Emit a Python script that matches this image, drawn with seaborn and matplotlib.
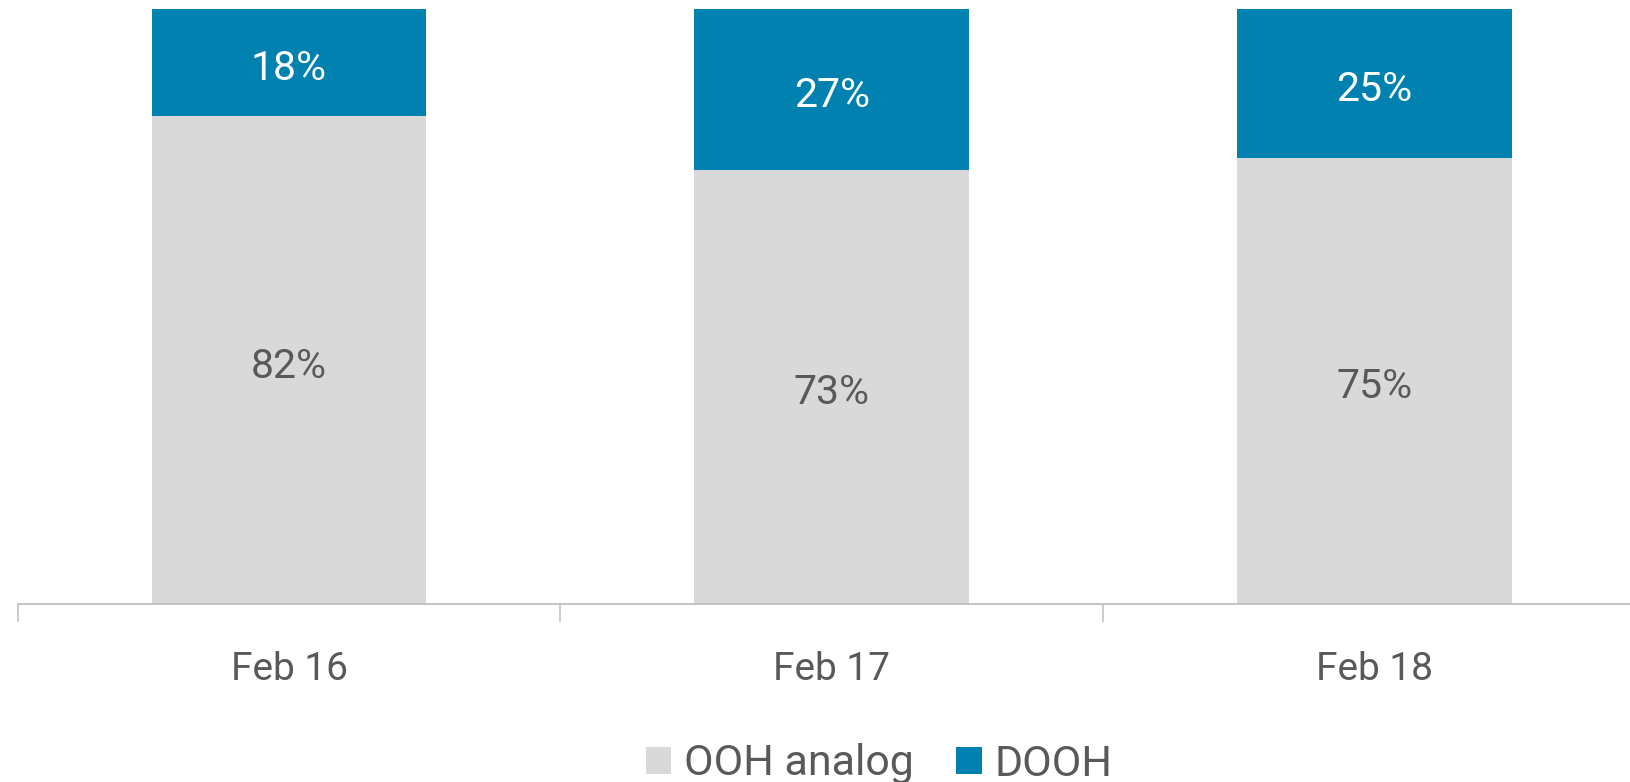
import matplotlib
matplotlib.use("Agg")
import matplotlib.pyplot as plt
import seaborn as sns
import pandas as pd
from matplotlib.patches import Rectangle
from matplotlib.transforms import offset_copy

categories = ["Feb 16", "Feb 17", "Feb 18"]
ooh_analog = [82, 73, 75]
dooh = [18, 27, 25]
series_names = ["OOH analog", "DOOH"]

GRAY = "#D9D9D9"
BLUE = "#0081B0"
TEXT = "#595959"
AXIS = "#BFBFBF"

sns.set_theme(style="white")
plt.rcParams["font.family"] = ["Roboto", "DejaVu Sans"]

FS_TICK = 28
FS_LABEL = 29.5
FS_LEG = 31

fig = plt.figure(figsize=(16.3, 7.82), dpi=100)
ax = fig.add_axes([17.7 / 1630, 1 - 604 / 782, 1 - 17.7 / 1630, (604 - 9) / 782])

df = pd.DataFrame({"cat": categories, "analog": ooh_analog, "dooh": dooh})
df["total"] = df["analog"] + df["dooh"]

sns.barplot(data=df, x="cat", y="total", color=BLUE, width=0.506, saturation=1,
            ax=ax, linewidth=0)
sns.barplot(data=df, x="cat", y="analog", color=GRAY, width=0.506, saturation=1,
            ax=ax, linewidth=0)

ax.set_xlabel("")
ax.set_ylabel("")
ax.set_yticks([])

lbl_tr = offset_copy(ax.transData, fig=fig, x=0, y=-2, units="dots")
for i, (a, d) in enumerate(zip(ooh_analog, dooh)):
    ax.text(i, a / 2, f"{a}%", ha="center", va="center_baseline", fontsize=FS_LABEL,
            color=TEXT, transform=lbl_tr)
    ax.text(i, a + d / 2, f"{d}%", ha="center", va="center_baseline", fontsize=FS_LABEL,
            color="white", transform=lbl_tr)

for s in ["top", "right", "left"]:
    ax.spines[s].set_visible(False)
ax.spines["bottom"].set_color(AXIS)
ax.spines["bottom"].set_linewidth(1.3)

ax.set_xticks(range(len(categories)))
ax.set_xticklabels(categories, fontsize=FS_TICK, color=TEXT)
ax.set_xticks([i - 0.5 for i in range(len(categories) + 1)], minor=True)
ax.tick_params(axis="x", which="major", length=0, pad=33.5)
ax.tick_params(axis="x", which="minor", length=13, width=1.1, color=AXIS, direction="out", bottom=True)

ax.set_xlim(-0.5, -0.5 + (1630 - 17.7) / 542.7)
ax.set_ylim(0, 100)

handles = [Rectangle((0, 0), 1, 1, facecolor=GRAY, edgecolor="none"),
           Rectangle((0, 0), 1, 1, facecolor=BLUE, edgecolor="none")]
leg = fig.legend(handles, series_names, loc="center", bbox_to_anchor=(879 / 1630, 1 - 764 / 782),
                 ncol=2, frameon=False, fontsize=FS_LEG, handlelength=0.6, handleheight=0.6,
                 handletextpad=0.28, columnspacing=1.0, borderpad=0, borderaxespad=0)
for t in leg.get_texts():
    t.set_color(TEXT)

fig.savefig("out.png", dpi=100)
